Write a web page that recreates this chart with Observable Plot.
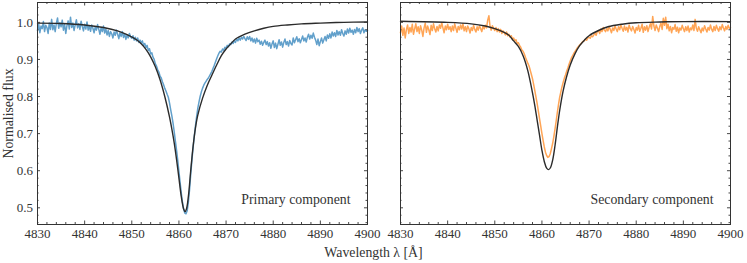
<!DOCTYPE html>
<html><head><meta charset="utf-8">
<script src="https://cdn.jsdelivr.net/npm/d3@7"></script>
<script src="https://cdn.jsdelivr.net/npm/@observablehq/plot@0.6"></script>
<style>body{margin:0;background:#fff} svg{display:block}</style>
</head><body><div id="chart"></div>
<script>
const panels = ["Primary component", "Secondary component"];
const xTicks = [4830, 4840, 4850, 4860, 4870, 4880, 4890, 4900];
const xMinor = [4832,4834,4836,4838,4842,4844,4846,4848,4852,4854,4856,4858,4862,4864,4866,4868,4872,4874,4876,4878,4882,4884,4886,4888,4892,4894,4896,4898];
const yTicks = [0.5, 0.6, 0.7, 0.8, 0.9, 1.0];
const yMinor = [0.46,0.48,0.52,0.54,0.56,0.58,0.62,0.64,0.66,0.68,0.72,0.74,0.76,0.78,0.82,0.84,0.86,0.88,0.92,0.94,0.96,0.98,1.02,1.04];
const xLabel = "Wavelength λ [Å]";
const yLabel = "Normalised flux";

// observed spectra, sampled every 0.25 Å from 4830 Å
const obsStart = 4830, obsStep = 0.25;
const primaryObs = [
0.978,0.995,0.972,0.990, 0.983,1.002,0.975,0.992, 0.986,0.970,0.998,0.981, 1.008,0.980,0.993,0.975,
0.997,1.012,0.984,0.999, 0.988,1.006,0.979,0.994, 0.970,0.991,1.004,0.982, 1.014,0.986,0.998,0.978,
0.993,1.007,0.985,0.996, 0.981,1.003,0.989,0.977, 0.995,0.982,1.001,0.979, 0.990,0.976,0.993,0.984,
0.972,0.988,0.979,0.994, 0.981,0.968,0.986,0.975, 0.990,0.971,0.982,0.966, 0.978,0.962,0.975,0.969,
0.958,0.974,0.965,0.979, 0.968,0.956,0.972,0.962, 0.975,0.959,0.969,0.954, 0.966,0.958,0.970,0.961,
0.957,0.964,0.952,0.960, 0.950,0.958,0.946,0.952, 0.944,0.950,0.938,0.943, 0.932,0.938,0.924,0.929,
0.915,0.918,0.906,0.900, 0.888,0.882,0.872,0.866, 0.855,0.850,0.840,0.832, 0.822,0.815,0.806,0.798,
0.783,0.765,0.748,0.728, 0.705,0.680,0.655,0.628, 0.598,0.568,0.540,0.515, 0.496,0.486,0.484,0.492,
0.515,0.548,0.590,0.628, 0.662,0.692,0.720,0.745, 0.768,0.785,0.800,0.812, 0.822,0.830,0.836,0.841,
0.846,0.850,0.856,0.862, 0.868,0.876,0.884,0.893, 0.902,0.910,0.917,0.922, 0.920,0.928,0.925,0.933,
0.930,0.938,0.934,0.942, 0.940,0.947,0.943,0.950, 0.946,0.955,0.950,0.958, 0.952,0.960,0.955,0.962,
0.956,0.951,0.961,0.954, 0.962,0.950,0.958,0.947, 0.955,0.944,0.957,0.948, 0.952,0.941,0.949,0.938,
0.946,0.952,0.940,0.948, 0.936,0.945,0.930,0.942, 0.950,0.932,0.944,0.929, 0.941,0.953,0.938,0.947,
0.933,0.946,0.955,0.940, 0.948,0.936,0.951,0.943, 0.939,0.958,0.945,0.953, 0.961,0.948,0.956,0.945,
0.954,0.963,0.950,0.958, 0.947,0.960,0.968,0.955, 0.965,0.957,0.971,0.960, 0.952,0.940,0.955,0.937,
0.948,0.958,0.944,0.953, 0.962,0.950,0.966,0.957, 0.969,0.958,0.974,0.963, 0.972,0.962,0.978,0.966,
0.975,0.965,0.980,0.970, 0.963,0.977,0.968,0.982, 0.971,0.984,0.973,0.979, 0.968,0.981,0.972,0.986,
0.975,0.983,0.970,0.979, 0.985,0.972,0.980,0.976, 0.978
];
const secondaryObs = [
0.972,0.990,0.965,0.985, 0.958,0.980,0.993,0.970, 0.986,0.974,0.995,0.968, 0.982,0.996,0.975,0.988,
0.970,0.991,0.979,0.962, 0.985,0.998,0.973,0.990, 0.980,0.967,0.992,0.978, 0.996,0.983,0.974,0.989,
0.977,0.993,0.984,0.999, 0.985,0.972,0.990,0.980, 0.995,0.981,0.988,0.975, 0.990,0.978,0.996,0.984,
0.973,0.989,0.980,0.993, 0.982,0.996,0.977,0.988, 0.975,0.990,0.983,0.971, 0.986,0.978,0.992,0.981,
0.974,0.988,0.979,0.991, 0.983,0.975,0.990,0.982, 0.992,0.985,1.006,1.018, 0.988,0.979,0.991,0.983,
0.978,0.986,0.975,0.983, 0.974,0.981,0.970,0.977, 0.972,0.966,0.974,0.964, 0.968,0.960,0.964,0.955,
0.958,0.950,0.953,0.943, 0.945,0.938,0.933,0.925, 0.922,0.915,0.906,0.898, 0.890,0.883,0.872,0.860,
0.848,0.832,0.815,0.798, 0.780,0.760,0.740,0.720, 0.700,0.682,0.664,0.650, 0.641,0.636,0.638,0.645,
0.658,0.672,0.690,0.710, 0.732,0.755,0.777,0.797, 0.812,0.826,0.838,0.849, 0.858,0.868,0.877,0.887,
0.896,0.904,0.910,0.916, 0.921,0.926,0.931,0.935, 0.939,0.942,0.946,0.949, 0.950,0.955,0.952,0.958,
0.960,0.957,0.964,0.961, 0.966,0.972,0.965,0.975, 0.978,0.970,0.982,0.975, 0.986,0.979,0.975,0.984,
0.977,0.989,0.981,0.972, 0.985,0.978,0.991,0.982, 0.975,0.988,0.980,0.993, 0.984,0.976,0.990,0.979,
0.987,0.974,0.993,0.983, 0.977,0.989,0.981,0.971, 0.986,0.979,0.992,0.976, 0.984,0.995,0.973,0.988,
0.979,0.991,0.975,0.987, 0.996,0.982,1.016,0.990, 0.978,0.993,0.984,0.975, 0.989,0.998,0.981,1.011,
0.992,1.014,0.983,0.995, 0.977,0.989,0.972,0.986, 0.981,0.994,0.976,0.987, 0.972,0.985,0.979,0.992,
0.983,0.975,0.988,0.978, 0.990,0.974,0.985,0.980, 0.993,0.978,1.008,0.984, 0.976,0.988,0.980,0.972,
0.985,0.977,0.991,0.982, 0.974,0.986,0.979,0.993, 0.981,0.975,0.989,0.978, 0.992,0.983,0.976,0.988,
0.980,0.994,0.985,0.977, 0.989,0.981,0.992,0.984, 0.986
];

// model profiles
const primaryModelLambda = [4830,4835,4840,4844,4847,4849,4851,4852,4853,4854,4855,4856,4857,4858,4858.5,4859,4859.5,4860,4860.5,4861,4861.3,4861.6,4862,4862.5,4863,4863.5,4864,4865,4866,4867,4868,4869,4870,4871,4872,4874,4876,4878,4880,4883,4886,4890,4895,4900];
const primaryModelFlux   = [0.998,0.997,0.993,0.986,0.977,0.967,0.953,0.942,0.927,0.907,0.880,0.845,0.800,0.745,0.712,0.675,0.630,0.580,0.530,0.497,0.490,0.497,0.530,0.600,0.665,0.715,0.750,0.795,0.830,0.858,0.885,0.910,0.928,0.942,0.955,0.968,0.977,0.984,0.989,0.993,0.996,0.998,1.000,1.001];
const secondaryModelLambda = [4830,4840,4845,4848,4850,4852,4853,4854,4855,4856,4857,4858,4858.5,4859,4859.5,4860,4860.5,4861,4861.4,4861.8,4862.3,4862.8,4863.3,4863.8,4864.5,4865.2,4866,4867,4868,4869,4870,4872,4874,4877,4880,4885,4890,4900];
const secondaryModelFlux   = [1.003,1.000,0.996,0.990,0.983,0.973,0.965,0.950,0.935,0.910,0.870,0.810,0.775,0.735,0.695,0.655,0.625,0.607,0.603,0.608,0.630,0.670,0.720,0.765,0.815,0.852,0.885,0.915,0.937,0.952,0.964,0.978,0.988,0.995,0.999,1.001,1.002,1.002];

const obsRows = (vals, panel) => vals.map((f, i) => ({panel, lambda: obsStart + i * obsStep, flux: f}));
const modelRows = (ls, fs, panel) => ls.map((l, i) => ({panel, lambda: l, flux: fs[i]}));

const W = 747, H = 263, mL = 37, mR = 16, mT = 2, mB = 39;
const fxPad = 0.0908;
const frameH = H - mT - mB;
const frameW = (W - mL - mR) / (2 - fxPad) * (1 - fxPad);

const font = "'Liberation Serif', 'Times New Roman', serif";
const ink = "#333";
// inward ticks on all four sides, via short tick marks inset from the frame
const xTickMarks = (ticks, len) => [
  Plot.tickX(ticks, {x: d => d, insetTop: frameH - len, stroke: ink, strokeWidth: 0.9}),
  Plot.tickX(ticks, {x: d => d, insetBottom: frameH - len, stroke: ink, strokeWidth: 0.9})
];
const yTickMarks = (ticks, len) => [
  Plot.tickY(ticks, {y: d => d, insetRight: frameW - len, stroke: ink, strokeWidth: 0.9}),
  Plot.tickY(ticks, {y: d => d, insetLeft: frameW - len, stroke: ink, strokeWidth: 0.9})
];

const chart = Plot.plot({
  width: W, height: H,
  marginLeft: mL, marginRight: mR, marginTop: mT, marginBottom: mB,
  style: {fontFamily: font, fontSize: "13px", color: ink, background: "#fff"},
  fx: {domain: panels, paddingInner: fxPad, paddingOuter: 0, axis: null, label: null},
  x: {domain: [4830, 4900], label: null},
  y: {domain: [0.455, 1.0535], label: null},
  marks: [
    Plot.line(obsRows(primaryObs, panels[0]), {x: "lambda", y: "flux", fx: "panel", stroke: "#62a0cb", strokeWidth: 1.5}),
    Plot.line(obsRows(secondaryObs, panels[1]), {x: "lambda", y: "flux", fx: "panel", stroke: "#ffa556", strokeWidth: 1.5}),
    Plot.line(modelRows(primaryModelLambda, primaryModelFlux, panels[0]), {x: "lambda", y: "flux", fx: "panel", stroke: "#2b2b2b", strokeWidth: 1.4, curve: "catmull-rom"}),
    Plot.line(modelRows(secondaryModelLambda, secondaryModelFlux, panels[1]), {x: "lambda", y: "flux", fx: "panel", stroke: "#2b2b2b", strokeWidth: 1.4, curve: "catmull-rom"}),
    Plot.frame({stroke: ink, strokeWidth: 1}),
    ...xTickMarks(xTicks, 3.5),
    ...xTickMarks(xMinor, 2),
    ...yTickMarks(yTicks, 3.5),
    ...yTickMarks(yMinor, 2),
    // tick labels
    Plot.axisX(xTicks, {anchor: "bottom", tickSize: 0, tickPadding: 4, tickFormat: d => String(d), label: null, fill: ink}),
    Plot.axisY(yTicks, {anchor: "left", tickSize: 0, tickPadding: 4.5, tickFormat: d => d.toFixed(1), label: null, fill: ink}),
    // panel annotations
    Plot.text(panels, {fx: d => d, text: d => d, frameAnchor: "bottom-right", textAnchor: "end", lineAnchor: "middle", dx: -17, dy: -25, fill: ink, fontSize: 13.8}),
    // axis titles
    Plot.text([yLabel], {fx: () => panels[0], text: d => d, frameAnchor: "left", rotate: -90, textAnchor: "middle", lineAnchor: "middle", dx: -29, fill: ink, fontSize: 13.8}),
    Plot.text([xLabel], {fx: () => panels[0], text: d => d, frameAnchor: "bottom-right", textAnchor: "middle", lineAnchor: "middle", dx: 6, dy: 28, fill: ink, fontSize: 13.8})
  ]
});
document.getElementById("chart").appendChild(chart);
</script>
</body></html>
